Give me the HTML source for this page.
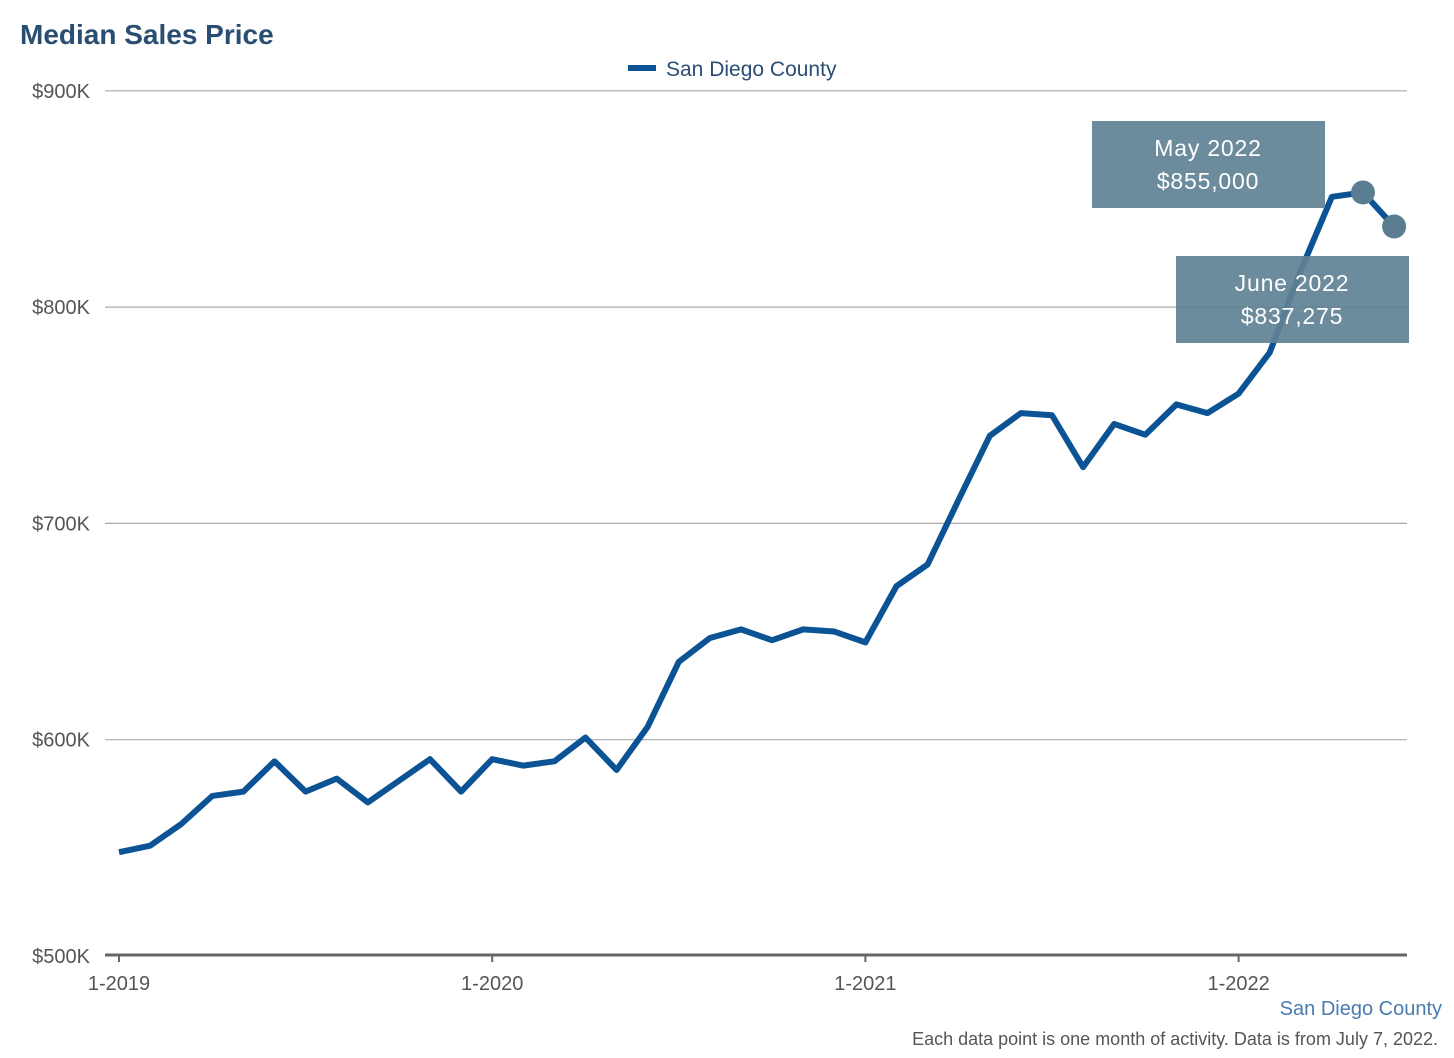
<!DOCTYPE html>
<html><head><meta charset="utf-8"><style>
body{margin:0;background:#fff;font-family:"Liberation Sans",sans-serif;}
svg{display:block}
</style></head><body>
<svg id="chart" width="1454" height="1058">
<text x="20" y="44" font-size="28" font-weight="bold" fill="#2a4e72">Median Sales Price</text>
<g>
<line x1="628" y1="68" x2="656" y2="68" stroke="#0b5394" stroke-width="6"/>
<text x="666" y="76" font-size="21" fill="#2a4e72">San Diego County</text>
</g>
<g id="grid"></g><g id="xaxis"></g><g id="series"></g><g id="ann"></g>
<text x="1442" y="1015" font-size="20" fill="#4a7bb0" text-anchor="end">San Diego County</text>
<text x="1438" y="1045" font-size="18" fill="#555" text-anchor="end">Each data point is one month of activity. Data is from July 7, 2022.</text>
</svg>
<script>
const yTicks=[500,600,700,800,900];
const xTickLabels=["1-2019","1-2020","1-2021","1-2022"];
const xTickIdx=[0,12,24,36];
const values=[548,551,561,574,576,590,576,582,571,581,591,576,
591,588,590,601,586,606,636,647,651,646,651,650,
645,671,681,711,740.5,751,750,726,746,741,755,751,
760,779,817,851,853,837.275];
const annLabels=[["May 2022","$855,000"],["June 2022","$837,275"]];
const NS="http://www.w3.org/2000/svg";
const x=i=>119+i*31.1;
const y=v=>956-(v-500)*2.163;
function mk(t,a,p){const e=document.createElementNS(NS,t);for(const k in a)e.setAttribute(k,a[k]);p.appendChild(e);return e;}
const grid=document.getElementById('grid');
yTicks.forEach(v=>{
 if(v>500){const l=mk('line',{x1:105,x2:1407,y1:y(v),y2:y(v),stroke:'#aaa','stroke-width':1.2},grid);
 
 }
 const t=mk('text',{x:90,y:y(v)+7,'font-size':20,fill:'#555','text-anchor':'end'},grid);t.textContent='$'+v+'K';
 
 
});
const xa=document.getElementById('xaxis');
const ax=mk('line',{x1:105,x2:1407,y1:955,y2:955,stroke:'#666','stroke-width':3},xa);


xTickIdx.forEach((i,k)=>{
 mk('line',{x1:x(i),x2:x(i),y1:955,y2:962,stroke:'#666','stroke-width':2},xa);
 const t=mk('text',{x:x(i),y:990,'font-size':20,fill:'#555','text-anchor':'middle'},xa);t.textContent=xTickLabels[k];
 
 
});
const s=document.getElementById('series');
const pl=mk('polyline',{points:values.map((v,i)=>x(i)+','+y(v)).join(' '),fill:'none',stroke:'#0b5394','stroke-width':6,'stroke-linejoin':'round'},s);


const n=values.length;
[n-2,n-1].forEach(i=>{const c=mk('circle',{cx:x(i),cy:y(values[i]),r:12,fill:'#5a7d91'},s);
 
 });
const an=document.getElementById('ann');
const boxes=[[1092,121],[1176,256]];
boxes.forEach((b,k)=>{
 const g=mk('g',{},an);
 
 
 mk('rect',{x:b[0],y:b[1],width:233,height:87,fill:'#5f8194',opacity:0.92},g);
 annLabels[k].forEach((tx,j)=>{const t=mk('text',{x:b[0]+116,y:b[1]+35+j*33,'font-size':23,fill:'#fff','text-anchor':'middle','letter-spacing':'0.8'},g);t.textContent=tx;});
});
</script>
</body></html>
